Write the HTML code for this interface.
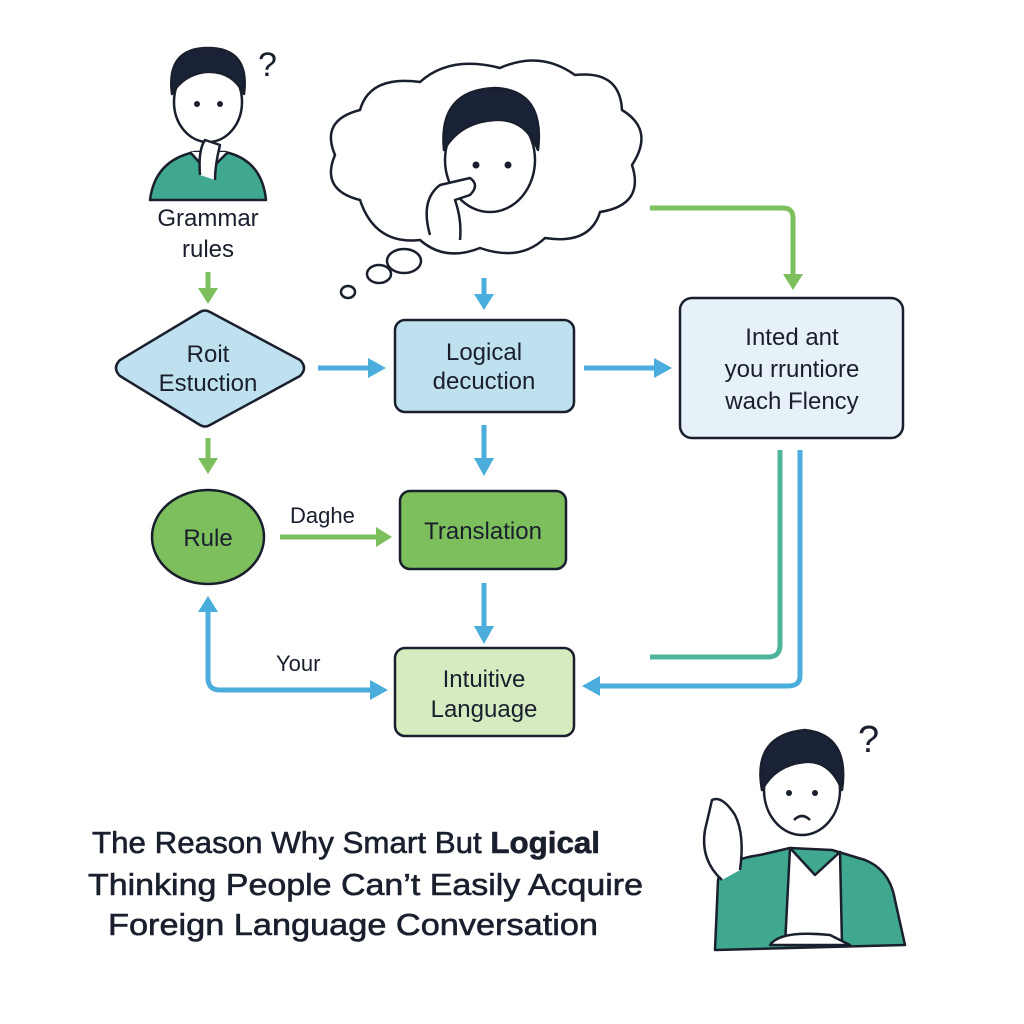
<!DOCTYPE html>
<html><head><meta charset="utf-8"><style>
html,body{margin:0;padding:0;background:#fff;}
svg{display:block;font-family:"Liberation Sans",sans-serif;}
</style></head><body>
<svg width="1024" height="1024" viewBox="0 0 1024 1024" xmlns="http://www.w3.org/2000/svg">
<rect width="1024" height="1024" fill="#fff"/>

<!-- top-left person -->
<g stroke="#1a1f2e" stroke-width="2.5" stroke-linejoin="round">
<path d="M150,200 Q155,160 195,152 L225,152 Q262,160 266,200 Z" fill="#3fa88e"/>
<path d="M190,152 L208,172 L228,152" fill="#fff"/>
<ellipse cx="208" cy="102" rx="34" ry="40" fill="#fff"/>
<path d="M172,94 Q166,48 208,48 Q250,48 244,94 Q232,70 205,72 Q183,75 172,94 Z" fill="#1a2238"/>
<path d="M200,175 Q198,150 205,140 L220,145 Q215,165 215,180" fill="#fff"/>
</g>
<circle cx="197" cy="104" r="3" fill="#1a1f2e"/><circle cx="220" cy="104" r="3" fill="#1a1f2e"/>
<text x="258" y="76" font-size="34" fill="#1a1f2e">?</text>
<text x="208" y="226" font-size="24" text-anchor="middle" fill="#1a1f2e">Grammar</text>
<text x="208" y="257" font-size="24" text-anchor="middle" fill="#1a1f2e">rules</text>

<!-- cloud -->
<g stroke="#1a1f2e" stroke-width="2.5" fill="#fff">
<path d="M360,200 Q320,190 335,155 Q320,120 360,110 Q370,75 420,82 Q450,55 500,68 Q540,50 575,75 Q620,70 622,110 Q655,130 632,165 Q645,205 600,212 Q590,245 545,238 Q520,262 480,248 Q445,262 420,240 Q375,245 360,200 Z"/>
<ellipse cx="404" cy="261" rx="17" ry="12"/>
<ellipse cx="379" cy="274" rx="12" ry="9"/>
<ellipse cx="348" cy="292" rx="7" ry="6"/>
</g>
<g stroke="#1a1f2e" stroke-width="2.5" stroke-linejoin="round">
<ellipse cx="490" cy="160" rx="45" ry="52" fill="#fff"/>
<path d="M444,150 Q438,90 495,88 Q545,90 538,150 Q525,118 495,120 Q460,122 444,150 Z" fill="#1a2238"/>
<path d="M430,235 Q420,200 440,185 L470,178 Q480,185 470,195 L455,200 Q462,220 460,240" fill="#fff"/>
</g>
<circle cx="476" cy="165" r="3.5" fill="#1a1f2e"/><circle cx="508" cy="165" r="3.5" fill="#1a1f2e"/>

<!-- nodes -->
<path d="M210,312 L300,360 Q308,368 300,376 L210,425 Q205,428 200,425 L120,376 Q112,368 120,360 L200,312 Q205,309 210,312 Z" fill="#bfe0ef" stroke="#1a1f2e" stroke-width="2.5"/>
<text x="208" y="362" font-size="24" text-anchor="middle" fill="#1a1f2e">Roit</text>
<text x="208" y="391" font-size="24" text-anchor="middle" fill="#1a1f2e">Estuction</text>

<rect x="395" y="320" width="179" height="92" rx="10" fill="#bfe0ef" stroke="#1a1f2e" stroke-width="2.5"/>
<text x="484" y="360" font-size="24" text-anchor="middle" fill="#1a1f2e">Logical</text>
<text x="484" y="389" font-size="24" text-anchor="middle" fill="#1a1f2e">decuction</text>

<rect x="680" y="298" width="223" height="140" rx="12" fill="#e6f1f8" stroke="#1a1f2e" stroke-width="2.5"/>
<text x="792" y="345" font-size="24" text-anchor="middle" fill="#1a1f2e">Inted ant</text>
<text x="792" y="377" font-size="24" text-anchor="middle" fill="#1a1f2e">you rruntiore</text>
<text x="792" y="409" font-size="24" text-anchor="middle" fill="#1a1f2e">wach Flency</text>

<ellipse cx="208" cy="537" rx="56" ry="47" fill="#7cbf5c" stroke="#1a1f2e" stroke-width="2.5"/>
<text x="208" y="546" font-size="24" text-anchor="middle" fill="#1a1f2e">Rule</text>

<rect x="400" y="491" width="166" height="78" rx="10" fill="#7cbf5c" stroke="#1a1f2e" stroke-width="2.5"/>
<text x="483" y="539" font-size="24" text-anchor="middle" fill="#1a1f2e">Translation</text>

<rect x="395" y="648" width="179" height="88" rx="10" fill="#d7ebc0" stroke="#1a1f2e" stroke-width="2.5"/>
<text x="484" y="687" font-size="24" text-anchor="middle" fill="#1a1f2e">Intuitive</text>
<text x="484" y="717" font-size="24" text-anchor="middle" fill="#1a1f2e">Language</text>

<text x="290" y="523" font-size="22" fill="#1a1f2e">Daghe</text>
<text x="276" y="671" font-size="22" fill="#1a1f2e">Your</text>

<!-- arrows -->
<g stroke-width="5" fill="none">
<path d="M208,272 L208,290" stroke="#7cbf5c"/>
<path d="M208,438 L208,460" stroke="#7cbf5c"/>
<path d="M280,537 L378,537" stroke="#7cbf5c"/>
<path d="M484,278 L484,296" stroke="#4aaddc"/>
<path d="M318,368 L370,368" stroke="#4aaddc"/>
<path d="M584,368 L656,368" stroke="#4aaddc"/>
<path d="M484,425 L484,460" stroke="#4aaddc"/>
<path d="M484,583 L484,628" stroke="#4aaddc"/>
<path d="M208,610 L208,678 Q208,690 220,690 L372,690" stroke="#4aaddc"/>
<path d="M650,208 L783,208 Q793,208 793,218 L793,276" stroke="#7cbf5c"/>
<path d="M780,450 L780,645 Q780,657 768,657 L650,657" stroke="#4fb59a"/>
<path d="M800,450 L800,676 Q800,686 788,686 L598,686" stroke="#4aaddc"/>
</g>
<g>
<path d="M198,288 L218,288 L208,304 Z" fill="#7cbf5c"/>
<path d="M198,458 L218,458 L208,474 Z" fill="#7cbf5c"/>
<path d="M376,527 L392,537 L376,547 Z" fill="#7cbf5c"/>
<path d="M783,274 L803,274 L793,290 Z" fill="#7cbf5c"/>
<path d="M474,294 L494,294 L484,310 Z" fill="#4aaddc"/>
<path d="M368,358 L386,368 L368,378 Z" fill="#4aaddc"/>
<path d="M654,358 L672,368 L654,378 Z" fill="#4aaddc"/>
<path d="M474,458 L494,458 L484,476 Z" fill="#4aaddc"/>
<path d="M474,626 L494,626 L484,644 Z" fill="#4aaddc"/>
<path d="M198,612 L218,612 L208,596 Z" fill="#4aaddc"/>
<path d="M370,680 L388,690 L370,700 Z" fill="#4aaddc"/>
<path d="M600,676 L582,686 L600,696 Z" fill="#4aaddc"/>
</g>

<!-- bottom-right person -->
<g stroke="#1a1f2e" stroke-width="2.5" stroke-linejoin="round">
<path d="M715,950 L718,880 Q722,860 760,855 L790,848 L832,850 L865,860 Q890,870 895,900 L905,945 Z" fill="#3fa88e"/>
<path d="M790,848 L815,875 L840,852 L842,945 L785,945 Z" fill="#fff"/>
<ellipse cx="802" cy="790" rx="38" ry="45" fill="#fff"/>
<path d="M762,790 Q752,735 805,730 Q850,735 842,790 Q830,760 805,762 Q775,765 762,790 Z" fill="#1a2238"/>
<path d="M722,880 Q700,860 705,830 L712,800 Q722,795 735,815 Q745,835 740,870" fill="#fff"/>
<path d="M770,945 Q780,930 830,935 L850,945 Z" fill="#fff"/>
</g>
<circle cx="789" cy="793" r="3" fill="#1a1f2e"/><circle cx="815" cy="793" r="3" fill="#1a1f2e"/>
<path d="M794,820 Q802,812 810,820" stroke="#1a1f2e" stroke-width="2.5" fill="none"/>
<text x="858" y="752" font-size="38" fill="#1a1f2e">?</text>

<!-- title -->
<g font-size="31" fill="#1a1f2e" stroke="#1a1f2e" stroke-width="0.6">
<text x="92" y="853" textLength="508" lengthAdjust="spacingAndGlyphs">The Reason Why Smart But <tspan font-weight="bold">Logical</tspan></text>
<text x="88" y="895" textLength="555" lengthAdjust="spacingAndGlyphs">Thinking People Can’t Easily Acquire</text>
<text x="108" y="935" textLength="490" lengthAdjust="spacingAndGlyphs">Foreign Language Conversation</text>
</g>
</svg>
</body></html>
